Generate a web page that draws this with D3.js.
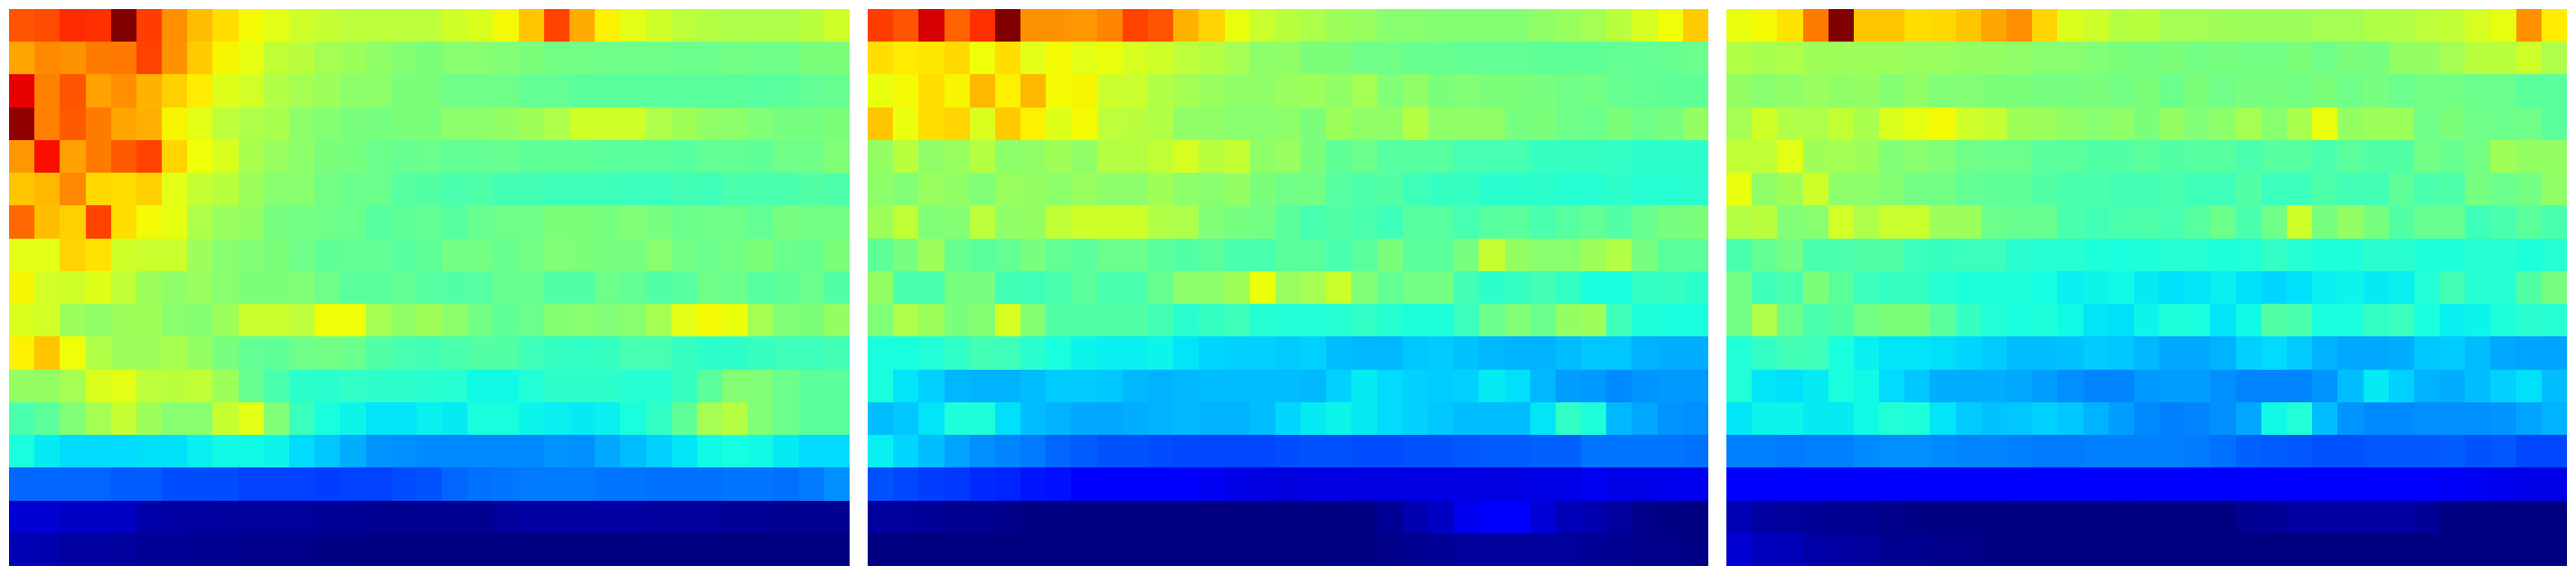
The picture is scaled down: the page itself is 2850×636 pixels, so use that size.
<!DOCTYPE html>
<html>
<head>
<meta charset="utf-8">
<style>html,body{margin:0;padding:0;background:#fff}svg{display:block}</style>
<script src="https://cdn.jsdelivr.net/npm/d3@7"></script>
</head>
<body>
<svg id="chart" width="2850" height="636"></svg>
<script>
const panelA = [
[.82,.83,.865,.86,1,.845,.76,.71,.675,.645,.625,.6,.59,.58,.58,.58,.58,.6,.615,.645,.7,.84,.73,.655,.625,.6,.58,.57,.56,.56,.56,.575,.6],
[.735,.765,.755,.78,.785,.84,.755,.695,.65,.63,.585,.575,.55,.54,.525,.51,.5,.515,.515,.505,.5,.49,.49,.485,.485,.485,.48,.48,.49,.485,.485,.5,.5],
[.91,.775,.82,.74,.76,.72,.69,.66,.62,.605,.565,.55,.54,.52,.52,.5,.5,.485,.485,.485,.47,.47,.46,.46,.46,.46,.46,.46,.46,.455,.46,.47,.475],
[.985,.775,.815,.78,.735,.725,.65,.625,.58,.56,.555,.52,.51,.5,.495,.5,.5,.52,.52,.53,.545,.56,.6,.6,.6,.56,.545,.525,.52,.505,.495,.495,.5],
[.75,.895,.74,.78,.815,.84,.685,.64,.615,.555,.535,.52,.5,.495,.48,.475,.48,.47,.47,.475,.465,.465,.465,.46,.46,.46,.455,.47,.47,.465,.485,.485,.505],
[.7,.715,.765,.68,.675,.69,.625,.59,.575,.54,.515,.515,.49,.48,.48,.455,.45,.44,.445,.43,.43,.425,.425,.425,.42,.42,.43,.425,.44,.44,.44,.45,.445],
[.8,.71,.69,.84,.675,.645,.63,.56,.535,.53,.495,.49,.485,.48,.455,.465,.47,.455,.475,.485,.485,.5,.5,.495,.505,.495,.48,.485,.485,.47,.495,.49,.49],
[.625,.625,.685,.67,.6,.595,.595,.54,.515,.505,.5,.485,.465,.47,.47,.455,.465,.49,.49,.475,.49,.505,.5,.495,.495,.515,.49,.48,.49,.5,.48,.475,.5],
[.65,.605,.6,.62,.585,.54,.525,.535,.515,.5,.5,.505,.485,.46,.46,.47,.455,.45,.455,.475,.475,.45,.45,.48,.47,.45,.455,.485,.48,.455,.465,.48,.45],
[.615,.605,.54,.525,.54,.545,.515,.51,.54,.595,.595,.58,.64,.64,.55,.525,.545,.52,.49,.465,.48,.51,.515,.505,.515,.55,.625,.645,.635,.55,.505,.5,.53],
[.655,.7,.64,.565,.54,.54,.555,.53,.495,.47,.465,.485,.49,.48,.45,.435,.43,.44,.45,.45,.425,.415,.41,.415,.435,.435,.415,.405,.405,.415,.425,.425,.43],
[.53,.53,.55,.615,.625,.58,.575,.585,.54,.475,.44,.405,.4,.41,.405,.405,.4,.395,.37,.37,.39,.405,.405,.405,.395,.395,.415,.46,.51,.505,.48,.46,.46],
[.44,.46,.505,.55,.59,.54,.515,.515,.59,.625,.505,.42,.38,.365,.35,.35,.36,.355,.38,.38,.365,.36,.355,.36,.38,.41,.465,.55,.57,.505,.48,.46,.46],
[.38,.355,.34,.34,.34,.345,.345,.36,.37,.37,.365,.34,.32,.295,.27,.265,.26,.26,.26,.26,.26,.27,.265,.29,.31,.33,.35,.37,.375,.37,.355,.34,.34],
[.225,.225,.225,.225,.215,.215,.2,.2,.2,.19,.19,.19,.185,.19,.19,.2,.205,.225,.235,.24,.245,.245,.245,.24,.24,.235,.235,.235,.24,.24,.235,.245,.265],
[.07,.07,.06,.06,.06,.035,.03,.03,.025,.025,.025,.025,.02,.02,.015,.015,.015,.015,.015,.025,.03,.03,.03,.03,.03,.025,.025,.025,.02,.02,.015,.015,.015],
[.045,.04,.03,.03,.025,.02,.02,.015,.015,.01,.01,.01,.005,.005,0,0,0,0,0,0,0,0,0,0,0,0,0,0,0,0,0,0,0]
];
const panelB = [
[.845,.82,.925,.805,.86,1,.755,.755,.75,.77,.84,.82,.72,.685,.635,.595,.575,.56,.54,.535,.515,.515,.51,.51,.51,.51,.525,.535,.55,.575,.61,.64,.695],
[.675,.66,.665,.68,.64,.675,.625,.645,.625,.635,.61,.6,.58,.57,.55,.52,.525,.5,.5,.485,.485,.475,.475,.47,.47,.47,.465,.465,.465,.47,.47,.475,.48],
[.635,.645,.675,.65,.715,.655,.715,.645,.65,.595,.595,.565,.55,.535,.525,.525,.535,.54,.525,.55,.505,.525,.5,.505,.5,.5,.495,.485,.49,.475,.47,.465,.465],
[.7,.635,.675,.685,.615,.695,.655,.62,.645,.58,.575,.565,.525,.525,.515,.515,.52,.5,.54,.525,.525,.57,.525,.525,.525,.495,.5,.485,.48,.5,.485,.495,.53],
[.53,.575,.525,.535,.57,.52,.525,.545,.525,.57,.57,.585,.61,.575,.59,.525,.535,.5,.465,.48,.455,.455,.455,.435,.435,.435,.415,.415,.415,.41,.405,.405,.405],
[.52,.505,.535,.525,.505,.535,.53,.52,.535,.52,.52,.545,.52,.515,.53,.5,.485,.49,.455,.445,.45,.425,.415,.415,.4,.4,.405,.395,.395,.405,.395,.395,.4],
[.54,.585,.505,.51,.58,.525,.53,.585,.6,.6,.6,.565,.56,.505,.495,.49,.46,.435,.45,.44,.425,.455,.455,.435,.455,.46,.44,.455,.47,.45,.475,.495,.5],
[.465,.495,.54,.475,.46,.47,.495,.47,.46,.48,.48,.46,.45,.46,.44,.44,.46,.46,.44,.46,.5,.46,.46,.495,.59,.53,.515,.515,.54,.565,.495,.46,.46],
[.53,.44,.44,.495,.495,.43,.425,.44,.46,.44,.44,.475,.52,.52,.545,.635,.535,.55,.595,.505,.47,.49,.49,.43,.405,.415,.43,.41,.38,.38,.41,.415,.405],
[.505,.56,.54,.5,.51,.61,.51,.45,.45,.45,.45,.43,.4,.415,.425,.395,.39,.39,.395,.41,.395,.385,.385,.42,.48,.505,.48,.53,.54,.425,.385,.38,.38],
[.38,.38,.39,.41,.43,.425,.4,.38,.365,.36,.36,.365,.35,.335,.33,.33,.325,.33,.31,.305,.305,.32,.325,.315,.305,.3,.3,.31,.32,.32,.3,.295,.295],
[.38,.35,.33,.305,.3,.3,.31,.325,.325,.32,.305,.3,.305,.31,.31,.31,.31,.305,.33,.355,.34,.33,.325,.33,.355,.345,.305,.28,.275,.26,.27,.275,.275],
[.31,.32,.35,.385,.385,.345,.31,.3,.29,.29,.295,.3,.305,.3,.3,.31,.335,.355,.365,.355,.34,.33,.32,.31,.31,.31,.35,.41,.385,.305,.29,.27,.265],
[.36,.335,.31,.285,.265,.255,.245,.225,.215,.205,.205,.2,.195,.195,.195,.195,.2,.205,.205,.2,.2,.205,.205,.21,.215,.215,.22,.22,.24,.24,.24,.24,.235],
[.205,.195,.185,.18,.165,.16,.145,.14,.125,.11,.11,.11,.11,.1,.09,.085,.08,.085,.085,.085,.085,.085,.085,.085,.085,.085,.09,.09,.1,.09,.09,.095,.095],
[.025,.025,.02,.015,.015,.01,.005,.005,0,0,0,0,0,0,0,0,0,0,0,.005,.02,.04,.06,.095,.115,.115,.075,.05,.04,.025,.01,.005,0],
[0,0,0,0,0,0,0,0,0,0,0,0,0,0,0,0,0,0,.005,.005,.01,.015,.02,.025,.025,.025,.025,.025,.02,.015,.01,.01,.005]
];
const panelC = [
[.635,.645,.67,.78,1,.7,.7,.675,.68,.7,.735,.76,.685,.615,.6,.57,.575,.55,.55,.545,.54,.54,.54,.55,.55,.565,.565,.58,.585,.61,.63,.755,.66],
[.565,.555,.56,.545,.54,.54,.54,.535,.535,.53,.53,.525,.515,.515,.505,.5,.495,.5,.49,.495,.49,.49,.5,.485,.5,.495,.53,.53,.55,.575,.575,.6,.56],
[.53,.515,.525,.535,.525,.53,.51,.525,.505,.51,.5,.5,.495,.495,.5,.49,.5,.48,.5,.485,.495,.495,.49,.5,.485,.495,.48,.49,.49,.48,.48,.46,.46],
[.55,.6,.565,.56,.585,.555,.615,.63,.645,.6,.59,.545,.54,.525,.515,.525,.5,.53,.505,.52,.55,.515,.555,.635,.53,.54,.54,.485,.5,.485,.48,.485,.46],
[.585,.585,.625,.545,.55,.54,.505,.515,.505,.485,.48,.48,.46,.46,.45,.45,.46,.45,.455,.455,.44,.455,.455,.44,.46,.45,.45,.49,.475,.49,.545,.53,.53],
[.635,.525,.545,.6,.52,.52,.51,.49,.49,.47,.465,.465,.45,.44,.44,.43,.43,.44,.425,.425,.45,.42,.42,.445,.43,.43,.465,.44,.445,.495,.48,.49,.525],
[.57,.575,.505,.515,.605,.56,.595,.595,.54,.54,.48,.475,.475,.44,.43,.44,.445,.435,.455,.48,.44,.485,.6,.495,.53,.495,.45,.475,.475,.425,.44,.46,.44],
[.44,.47,.49,.44,.44,.45,.45,.42,.415,.42,.42,.4,.395,.395,.385,.38,.385,.395,.395,.385,.39,.41,.395,.385,.385,.4,.4,.385,.385,.395,.395,.385,.395],
[.49,.425,.44,.5,.46,.42,.415,.415,.395,.385,.385,.385,.375,.36,.365,.37,.355,.345,.35,.36,.345,.335,.345,.36,.365,.355,.36,.39,.43,.395,.395,.45,.495],
[.49,.56,.48,.44,.45,.49,.5,.5,.46,.415,.39,.38,.385,.37,.35,.345,.365,.385,.38,.35,.37,.45,.44,.38,.38,.41,.42,.38,.36,.365,.385,.4,.395],
[.39,.41,.43,.425,.38,.36,.35,.35,.345,.335,.325,.31,.31,.315,.325,.32,.305,.29,.29,.3,.33,.34,.325,.3,.29,.29,.295,.32,.325,.31,.29,.285,.285],
[.39,.35,.345,.355,.38,.37,.34,.32,.295,.295,.295,.29,.28,.265,.255,.255,.275,.28,.28,.265,.255,.255,.255,.27,.31,.355,.33,.3,.295,.31,.33,.345,.31],
[.35,.365,.365,.355,.355,.37,.39,.385,.35,.325,.315,.32,.33,.32,.3,.28,.26,.25,.255,.265,.29,.37,.39,.31,.27,.26,.26,.265,.265,.265,.27,.285,.3],
[.25,.25,.245,.25,.25,.26,.265,.265,.26,.255,.255,.25,.245,.245,.25,.25,.25,.25,.245,.235,.22,.215,.21,.205,.205,.21,.21,.21,.215,.205,.21,.195,.195],
[.11,.11,.11,.11,.11,.11,.11,.11,.11,.11,.11,.11,.11,.11,.11,.11,.11,.11,.11,.11,.11,.11,.11,.11,.11,.11,.11,.11,.105,.1,.095,.09,.09],
[.045,.03,.025,.02,.015,.015,.01,.005,.005,.005,.005,0,0,0,0,.005,0,0,0,0,.015,.02,.03,.03,.03,.03,.03,.02,.005,.005,0,0,0],
[.07,.055,.05,.035,.03,.025,.015,.015,.01,.01,.005,0,0,0,0,0,0,0,0,0,0,0,0,0,0,0,0,0,0,0,0,0,0]
];
const panels = [panelA, panelB, panelC];
const rowCount = panelA.length, colCount = panelA[0].length;

// Jet colour map, one piecewise-linear scale per channel
const red = d3.scaleLinear().domain([0,.35,.66,.89,1]).range([0,0,255,255,127.5]);
const green = d3.scaleLinear().domain([0,.125,.375,.64,.91,1]).range([0,0,255,255,0,0]);
const blue = d3.scaleLinear().domain([0,.11,.34,.65,1]).range([127.5,255,255,0,0]);
const jet = v => d3.rgb(red(v), green(v), blue(v)).formatHex();

const svg = d3.select("#chart");
const panelWidth = 930, panelHeight = 616, panelGap = 20;
const panelX = d3.scaleBand().domain(d3.range(panels.length))
  .range([10, 10 + panels.length * panelWidth + (panels.length - 1) * panelGap])
  .paddingInner(panelGap / (panelWidth + panelGap));
const x = d3.scaleBand().domain(d3.range(colCount)).range([0, panelX.bandwidth()]);
const y = d3.scaleBand().domain(d3.range(rowCount)).range([10, 10 + panelHeight]);

panels.forEach((rows, p) => {
  const g = svg.append("g").attr("transform", `translate(${panelX(p)},0)`);
  g.selectAll("g").data(rows).join("g")
    .attr("transform", (_, r) => `translate(0,${y(r)})`)
    .selectAll("rect").data(d => d).join("rect")
    .attr("x", (_, c) => x(c))
    .attr("width", x.bandwidth())
    .attr("height", y.bandwidth())
    .attr("shape-rendering", "crispEdges")
    .attr("fill", d => jet(d));
});
</script>
</body>
</html>
